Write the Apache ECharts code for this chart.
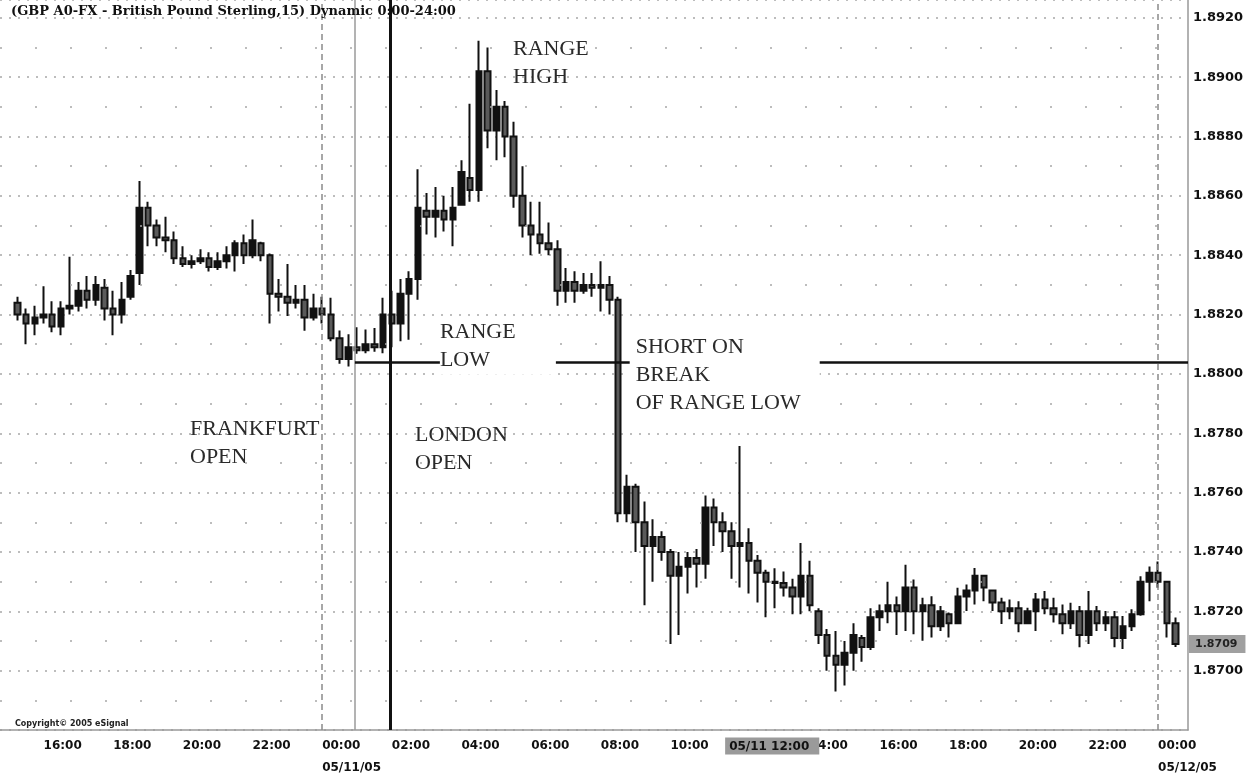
<!DOCTYPE html>
<html><head><meta charset="utf-8">
<script src="https://cdn.jsdelivr.net/npm/echarts@6/dist/echarts.min.js"></script>
<style>html,body{margin:0;padding:0;background:#fff}#c{width:1258px;height:779px}</style>
</head><body><div id="c"></div>
<script>
// 15-minute GBP/USD bars, first bar 05/10/05 15:15 (hours counted from 05/10 00:00)
const firstBarHour = 15.25;
const barStepHours = 0.25;

const opens = [
1.8824,1.8820,1.8817,1.8819,1.8820,1.8816,1.8822,1.8823,1.8828,1.8825,1.8829,1.8822,1.8820,1.8826,1.8834,1.8856,1.8850,1.8846,1.8845,1.8839,
1.8837,1.8838,1.8839,1.8836,1.8838,1.8840,1.8844,1.8840,1.8844,1.8840,1.8827,1.8826,1.8824,1.8825,1.8819,1.8822,1.8820,1.8812,1.8805,1.8809,
1.8808,1.8810,1.8809,1.8820,1.8817,1.8827,1.8832,1.8855,1.8853,1.8855,1.8852,1.8857,1.8866,1.8862,1.8902,1.8882,1.8890,1.8880,1.8860,1.8850,
1.8847,1.8844,1.8842,1.8828,1.8831,1.8828,1.8830,1.8829,1.8830,1.8825,1.8753,1.8762,1.8750,1.8742,1.8745,1.8740,1.8732,1.8735,1.8738,1.8736,
1.8755,1.8750,1.8747,1.8742,1.8743,1.8737,1.8733,1.8730,1.87295,1.8728,1.8725,1.8732,1.8720,1.8712,1.8705,1.8702,1.8706,1.8711,1.8708,1.8718,
1.8720,1.8722,1.8720,1.8728,1.8720,1.8722,1.8715,1.8719,1.8716,1.8725,1.8727,1.8732,1.8727,1.8723,1.8720,1.8721,1.8716,1.8720,1.8724,1.8721,
1.8719,1.8716,1.8720,1.8712,1.8720,1.8716,1.8718,1.8711,1.8715,1.8719,1.8730,1.8733,1.8730,1.8716];
const closes = [
1.8820,1.8817,1.8819,1.8820,1.8816,1.8822,1.8823,1.8828,1.8825,1.8830,1.8822,1.8820,1.8825,1.8833,1.8856,1.8850,1.8846,1.8845,1.8839,1.8837,
1.8838,1.8839,1.8836,1.8838,1.8840,1.8844,1.8840,1.8845,1.8840,1.8827,1.8826,1.8824,1.8825,1.8819,1.8822,1.8820,1.8812,1.8805,1.8809,1.8808,
1.8810,1.8809,1.8820,1.8817,1.8827,1.8832,1.8856,1.8853,1.8855,1.8852,1.8856,1.8868,1.8862,1.8902,1.8882,1.8890,1.8880,1.8860,1.8850,1.8847,
1.8844,1.8842,1.8828,1.8831,1.8828,1.8830,1.8829,1.8830,1.8825,1.8753,1.8762,1.8750,1.8742,1.8745,1.8740,1.8732,1.8735,1.8738,1.8736,1.8755,
1.8750,1.8747,1.8742,1.8743,1.8737,1.8733,1.8730,1.87295,1.8728,1.8725,1.8732,1.8722,1.8712,1.8705,1.8702,1.8706,1.8712,1.8708,1.8718,1.8720,
1.8722,1.8720,1.8728,1.8720,1.8722,1.8715,1.8720,1.8716,1.8725,1.8727,1.8732,1.8728,1.8723,1.8720,1.8721,1.8716,1.8720,1.8724,1.8721,1.8719,
1.8716,1.8720,1.8712,1.8720,1.8716,1.8718,1.8711,1.8715,1.8719,1.8730,1.8733,1.8730,1.8716,1.8709];
const lows = [
1.8818,1.8810,1.8813,1.8817,1.8814,1.8813,1.8820,1.8821,1.8822,1.8823,1.8818,1.8813,1.8817,1.8825,1.8830,1.8843,1.8843,1.8841,1.8837,1.8836,
1.88355,1.8837,1.88345,1.8835,1.88355,1.88345,1.8837,1.8839,1.8838,1.8817,1.8821,1.88195,1.8822,1.88145,1.8818,1.8817,1.8811,1.88034,1.88025,1.88068,
1.8807,1.88075,1.8807,1.8809,1.8811,1.88115,1.8825,1.8847,1.8846,1.8848,1.8843,1.8857,1.8858,1.8858,1.8876,1.8872,1.8873,1.8856,1.8846,1.8840,
1.88405,1.8840,1.8823,1.8824,1.8824,1.8827,1.8826,1.8821,1.8820,1.8750,1.8750,1.8740,1.8722,1.8730,1.8737,1.8709,1.8712,1.8726,1.8728,1.8731,
1.8742,1.8740,1.8731,1.8728,1.8726,1.8723,1.8718,1.8721,1.8725,1.8719,1.8719,1.8720,1.8709,1.8700,1.8693,1.8695,1.8700,1.8703,1.8707,1.87134,
1.8716,1.8712,1.87134,1.87123,1.87101,1.87112,1.87134,1.87112,1.87157,1.87201,1.87223,1.87234,1.87201,1.87157,1.87173,1.87129,1.87157,1.87134,1.8719,1.87162,
1.87123,1.8714,1.87079,1.8709,1.87134,1.87134,1.87079,1.87073,1.87134,1.87185,1.87234,1.87279,1.87112,1.8708];
const highs = [
1.8826,1.8822,1.8823,1.88295,1.88245,1.88245,1.88395,1.8831,1.8833,1.8833,1.8832,1.8828,1.8831,1.8835,1.8865,1.8858,1.8852,1.8853,1.8848,1.8843,
1.8840,1.8842,1.8841,1.8841,1.8843,1.8845,1.8847,1.8852,1.88445,1.88406,1.8832,1.8837,1.8830,1.8830,1.8827,1.8826,1.88257,1.88146,1.88134,1.88157,
1.8815,1.88155,1.88257,1.8828,1.8832,1.88346,1.8869,1.8861,1.8863,1.8860,1.8863,1.8872,1.8891,1.89123,1.8910,1.88957,1.8892,1.8885,1.8870,1.8858,
1.8858,1.8851,1.8845,1.88357,1.88346,1.8834,1.8834,1.8838,1.8833,1.8826,1.8766,1.8763,1.8757,1.8751,1.8747,1.8741,1.8740,1.8740,1.8741,1.8759,
1.8758,1.87534,1.8750,1.87757,1.8748,1.8739,1.8734,1.87345,1.87334,1.8731,1.8743,1.8737,1.8721,1.8714,1.87134,1.8710,1.8716,1.8712,1.8721,1.87223,
1.8730,1.8725,1.87357,1.87307,1.87246,1.87251,1.87218,1.87196,1.87279,1.8729,1.87346,1.87323,1.87273,1.87246,1.8724,1.87234,1.87212,1.87262,1.87268,1.87246,
1.87223,1.87229,1.87218,1.87268,1.87218,1.87201,1.87201,1.87184,1.87207,1.87318,1.87351,1.87368,1.8730,1.87179];

// axis ticks (hours from 05/10 00:00)
const xLabelHours = [16,18,20,22,24,26,28,30,32,34,38,40,42,44,46,48];
const cursorHour = 35.57;            // highlighted cursor label "05/11 12:00"
const cursorText = '05/11 12:00';
const dateLabels = {24: '05/11/05', 48: '05/12/05'};
const dayLines = [24, 48];            // midnight separators
const frankfurtOpenHour = 24.94;
const londonOpenHour = 25.95;
const rangeLow = 1.8804;
const lastPrice = 1.8709;
const minorGridLevels = [1.8690,1.8710,1.8730,1.8750,1.8770,1.8790,1.8810,1.8830,1.8850,1.8870,1.8890,1.8910];

const candleData = opens.map((o, i) => [firstBarHour + i * barStepHours, o, closes[i], lows[i], highs[i]]);

const serif = 'Liberation Serif';
const annoStyle = {fontFamily: serif, fontSize: 22, color: '#2a2a2a', lineHeight: 28, align: 'left', verticalAlign: 'top'};

function fmtX(v) {
  if (Math.abs(v - cursorHour) < 0.01) return '{hl|' + cursorText + '}';
  const r = Math.round(v);
  const h = r % 24;
  const s = (h < 10 ? '0' : '') + h + ':00';
  return dateLabels[r] ? s + '\n' + dateLabels[r] : s;
}

const minorLines = minorGridLevels.map(v => ({yAxis: v, lineStyle: {color: '#a8a8a8', width: 1.5, type: [2, 33]}}));

const chart = echarts.init(document.getElementById('c'));
chart.setOption({
  animation: false,
  backgroundColor: '#fff',
  title: [
    {text: '(GBP A0-FX - British Pound Sterling,15) Dynamic 0:00-24:00', left: 6, top: 0,
     textStyle: {fontFamily: 'DejaVu Serif', fontWeight: 'bold', fontSize: 13, color: '#111'}},
    {text: 'Copyright\u00a9 2005 eSignal', left: 10, top: 715,
     textStyle: {fontFamily: 'DejaVu Sans', fontWeight: 'bold', fontSize: 8, color: '#222'}}
  ],
  grid: {left: 0, right: 70, top: 0, bottom: 44},
  xAxis: {
    type: 'value', min: 14.75, max: 48.86,
    axisLine: {show: true, lineStyle: {color: '#999', width: 1.5}},
    axisTick: {show: false},
    splitLine: {show: false},
    axisLabel: {
      customValues: xLabelHours.concat([cursorHour]),
      formatter: fmtX, align: 'left', margin: 5,
      fontFamily: 'DejaVu Sans', fontWeight: 'bold', fontSize: 12, color: '#111', lineHeight: 22,
      rich: {hl: {backgroundColor: '#9a9a9a', color: '#111', padding: [3, 10, 2, 4],
                  fontFamily: 'DejaVu Sans', fontWeight: 'bold', fontSize: 12}}
    }
  },
  yAxis: {
    type: 'value', position: 'right', min: 1.8680, max: 1.8926, interval: 0.002,
    axisLine: {show: true, lineStyle: {color: '#999', width: 1.5}},
    axisTick: {show: false},
    axisLabel: {margin: 5, showMinLabel: false, showMaxLabel: false,
      formatter: v => v.toFixed(4),
      fontFamily: 'DejaVu Sans', fontWeight: 'bold', fontSize: 13, color: '#111'},
    splitLine: {show: true, lineStyle: {color: '#a8a8a8', width: 1.5, type: [2, 7]}}
  },
  series: [{
    type: 'candlestick',
    data: candleData,
    encode: {x: 0, y: [1, 2, 3, 4]},
    barWidth: 6,
    itemStyle: {color: '#111', color0: '#5a5a5a', borderColor: '#111', borderColor0: '#111', borderWidth: 2},
    markLine: {
      silent: true, symbol: 'none', animation: false, precision: 6,
      label: {show: false},
      data: minorLines.concat([
        {xAxis: dayLines[0], lineStyle: {color: '#8a8a8a', width: 1.5, type: [6, 4]}},
        {xAxis: dayLines[1], lineStyle: {color: '#8a8a8a', width: 1.5, type: [6, 4]}},
        {xAxis: frankfurtOpenHour, lineStyle: {color: '#9a9a9a', width: 1.5, type: 'solid'}},
        {xAxis: londonOpenHour, lineStyle: {color: '#111', width: 3, type: 'solid'}},
        [{coord: [frankfurtOpenHour, rangeLow], lineStyle: {color: '#111', width: 2.5, type: 'solid'}},
         {coord: [48.86, rangeLow]}],
        {yAxis: lastPrice, lineStyle: {color: 'rgba(0,0,0,0)', width: 1},
         label: {show: true, position: 'end', distance: 1, formatter: lastPrice.toFixed(4),
                 backgroundColor: '#a0a0a0', color: '#222', padding: [4, 8, 3, 6],
                 fontFamily: 'DejaVu Sans', fontWeight: 'bold', fontSize: 11}}
      ])
    },
    markPoint: {
      silent: true, animation: false, z: 10, symbol: 'circle', symbolSize: 0,
      data: [
        {coord: [29.48, 1.8914], label: Object.assign({show: true, position: [0, 0], formatter: 'RANGE\nHIGH'}, annoStyle)},
        {coord: [27.38, 1.88186], label: Object.assign({show: true, position: [0, 0], formatter: 'RANGE\nLOW', backgroundColor: '#fff', width: 116}, annoStyle)},
        {coord: [32.83, 1.88137], label: Object.assign({show: true, position: [0, 0], formatter: 'SHORT ON\nBREAK\nOF RANGE LOW', backgroundColor: '#fff', width: 184, padding: [0, 0, 0, 6]}, annoStyle)},
        {coord: [20.205, 1.87861], label: Object.assign({show: true, position: [0, 0], formatter: 'FRANKFURT\nOPEN'}, annoStyle)},
        {coord: [26.665, 1.87841], label: Object.assign({show: true, position: [0, 0], formatter: 'LONDON\nOPEN'}, annoStyle)}
      ]
    }
  }]
});
</script>
</body></html>
